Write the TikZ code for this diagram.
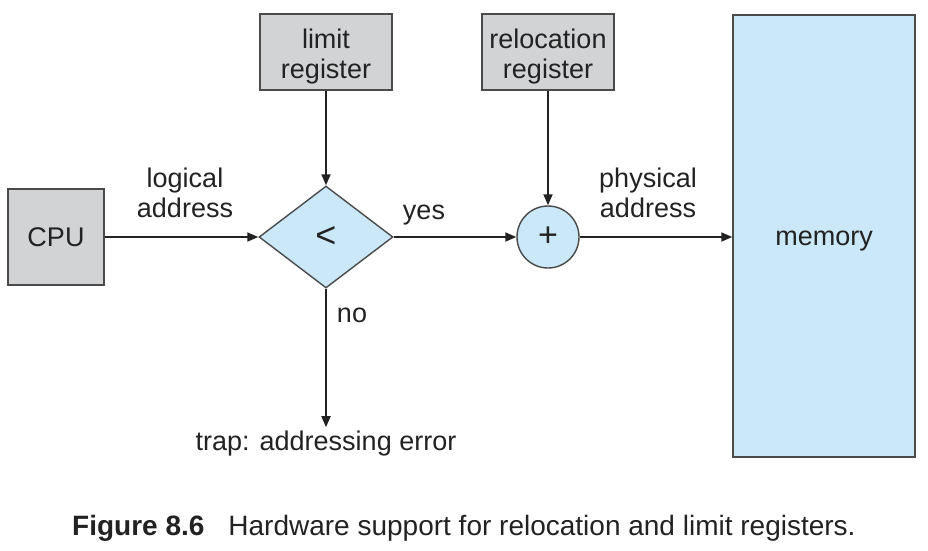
\documentclass[tikz,border=0pt]{standalone}
\usepackage{fontspec}
\setmainfont{Liberation Sans}
\usetikzlibrary{shapes.geometric,arrows.meta}
\definecolor{boxgray}{HTML}{D2D3D5}
\definecolor{boxblue}{HTML}{CAE8F8}
\definecolor{edge}{HTML}{4A4A4A}
\definecolor{ink}{HTML}{222222}
\tikzset{
  lbl/.style={font=\fontsize{27}{30}\selectfont, text=ink, align=center, inner sep=0pt},
  graybox/.style={draw=edge, line width=1.4pt, fill=boxgray, inner sep=0pt, lbl},
  bluebox/.style={draw=edge, line width=1.4pt, fill=boxblue, inner sep=0pt, lbl},
  conn/.style={draw=ink, line width=1.8pt, -{Triangle[length=11pt,width=9pt]}}
}
\begin{document}
\begin{tikzpicture}[x=1pt,y=-1pt]
\useasboundingbox (0,0) rectangle (928,550);
\node[graybox, minimum width=96, minimum height=96] (cpu) at (56,237) {CPU};
\node[graybox, minimum width=132, minimum height=76] (limit) at (326,52) {\rule{0pt}{28pt}limit\\register};
\node[graybox, minimum width=132, minimum height=76] (reloc) at (548,52) {\rule{0pt}{28pt}relocation\\register};
\node[bluebox, diamond, minimum width=134, minimum height=102, font=\fontsize{36}{36}\selectfont] (cmp) at (326,237) {\raisebox{-1pt}{<}};
\node[bluebox, circle, minimum size=62, font=\fontsize{34}{34}\selectfont] (add) at (548,237) {\raisebox{-1pt}{+}};
\node[bluebox, minimum width=182, minimum height=442] (mem) at (824,236) {\raisebox{-9pt}[0pt][0pt]{memory}};
\node[lbl] (trap) at (326,444) {trap: addressing error};
\node[lbl] (la) at (185,193) {logical\\address};
\node[lbl] (yes) at (424,215) {yes};
\node[lbl] (pa) at (648,193) {physical\\address};
\node[lbl] (no) at (352,315) {no};
\draw[conn] (cpu.east) -- (cmp.west);
\draw[conn] (limit.south) -- (cmp.north);
\draw[conn] (cmp.east) -- (add.west);
\draw[conn] (reloc.south) -- (add.north);
\draw[conn] (add.east) -- (add.east -| mem.west);
\draw[conn] (cmp.south) -- ([yshift=4pt]trap.north);
\node[font=\fontsize{28}{30}\selectfont, text=ink, anchor=base west, inner sep=0pt] (cap) at (72,535) {\textbf{Figure 8.6}\hspace{24pt}Hardware support for relocation and limit registers.};
\end{tikzpicture}
\end{document}
